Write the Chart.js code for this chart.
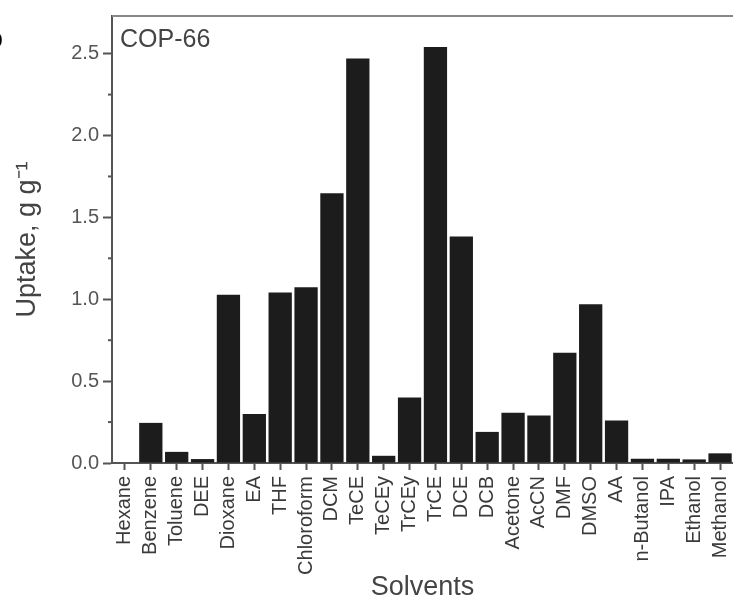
<!DOCTYPE html>
<html>
<head>
<meta charset="utf-8">
<script src="https://cdn.jsdelivr.net/npm/chart.js@4"></script>
<style>
  html, body { margin: 0; padding: 0; background: #fff; }
  #wrap { width: 733px; height: 604px; position: relative; }
</style>
</head>
<body>
<div id="wrap"><canvas id="uptakeChart"></canvas></div>
<script>
const solvents = ['Hexane', 'Benzene', 'Toluene', 'DEE', 'Dioxane', 'EA', 'THF', 'Chloroform',
  'DCM', 'TeCE', 'TeCEy', 'TrCEy', 'TrCE', 'DCE', 'DCB', 'Acetone', 'AcCN', 'DMF', 'DMSO',
  'AA', 'n-Butanol', 'IPA', 'Ethanol', 'Methanol'];
const uptake = [0, 0.245, 0.068, 0.024, 1.027, 0.30, 1.041, 1.073, 1.648, 2.47, 0.044, 0.40,
  2.54, 1.384, 0.19, 0.307, 0.29, 0.674, 0.970, 0.26, 0.026, 0.026, 0.022, 0.059];
const yMin = 0, yMax = 2.73, yStep = 0.5;
const minorTicks = [0.25, 0.75, 1.25, 1.75, 2.25];
const panelLabel = 'COP-66';
const panelLetter = 'b';

Chart.defaults.font.family = '"Liberation Sans", Arial, sans-serif';

// top frame line, minor y ticks and the in-plot label
const frame = {
  id: 'frame',
  afterDraw(chart) {
    const { ctx, chartArea: a, scales: { y } } = chart;
    ctx.save();
    ctx.strokeStyle = '#555';
    ctx.lineWidth = 2;
    minorTicks.forEach(v => {
      const py = y.getPixelForValue(v);
      ctx.beginPath();
      ctx.moveTo(a.left - 4, py);
      ctx.lineTo(a.left, py);
      ctx.stroke();
    });
    ctx.strokeStyle = '#888';
    ctx.beginPath();
    ctx.moveTo(a.left, a.top);
    ctx.lineTo(a.right, a.top);
    ctx.stroke();

    ctx.fillStyle = '#444';
    ctx.textBaseline = 'alphabetic';
    ctx.font = '25px "Liberation Sans", Arial';
    ctx.fillText(panelLabel, a.left + 8, a.top + 31);
    ctx.textAlign = 'right';
    ctx.font = 'bold 26px "Liberation Sans", Arial';
    ctx.fillStyle = '#000';
    ctx.fillText(panelLetter, 3, a.top + 31);
    ctx.restore();
  }
};

new Chart(document.getElementById('uptakeChart'), {
  type: 'bar',
  data: {
    labels: solvents,
    datasets: [{
      data: uptake,
      backgroundColor: '#1c1c1c',
      borderWidth: 0,
      categoryPercentage: 1,
      barPercentage: 0.9
    }]
  },
  options: {
    responsive: true,
    maintainAspectRatio: false,
    animation: false,
    layout: { padding: { top: 12, left: 0, right: 0, bottom: 0 } },
    plugins: { legend: { display: false }, tooltip: { enabled: false } },
    scales: {
      x: {
        border: { color: '#555', width: 2 },
        grid: { drawOnChartArea: false, offset: false, tickLength: 7, tickColor: '#555', tickWidth: 2 },
        ticks: {
          autoSkip: false, maxRotation: 90, minRotation: 90, padding: 6,
          color: '#3a3a3a', font: { size: 20 }
        },
        title: { display: true, text: 'Solvents', color: '#444', font: { size: 27 }, padding: { top: 0, bottom: 0 } },
        afterFit: s => { s.height = 141; s.paddingLeft = 0; s.paddingRight = 0; }
      },
      y: {
        min: yMin,
        max: yMax,
        border: { color: '#555', width: 2 },
        grid: { drawOnChartArea: false, tickLength: 9, tickColor: '#555', tickWidth: 2 },
        ticks: {
          stepSize: yStep, includeBounds: false, padding: 4,
          color: '#555', font: { size: 20 },
          callback: v => v.toFixed(1)
        },
        title: { display: true, text: 'Uptake, g g⁻¹', color: '#444', font: { size: 27 }, padding: { top: 11, bottom: 0 } },
        afterFit: s => { s.width = 112; }
      }
    }
  },
  plugins: [frame]
});
</script>
</body>
</html>
